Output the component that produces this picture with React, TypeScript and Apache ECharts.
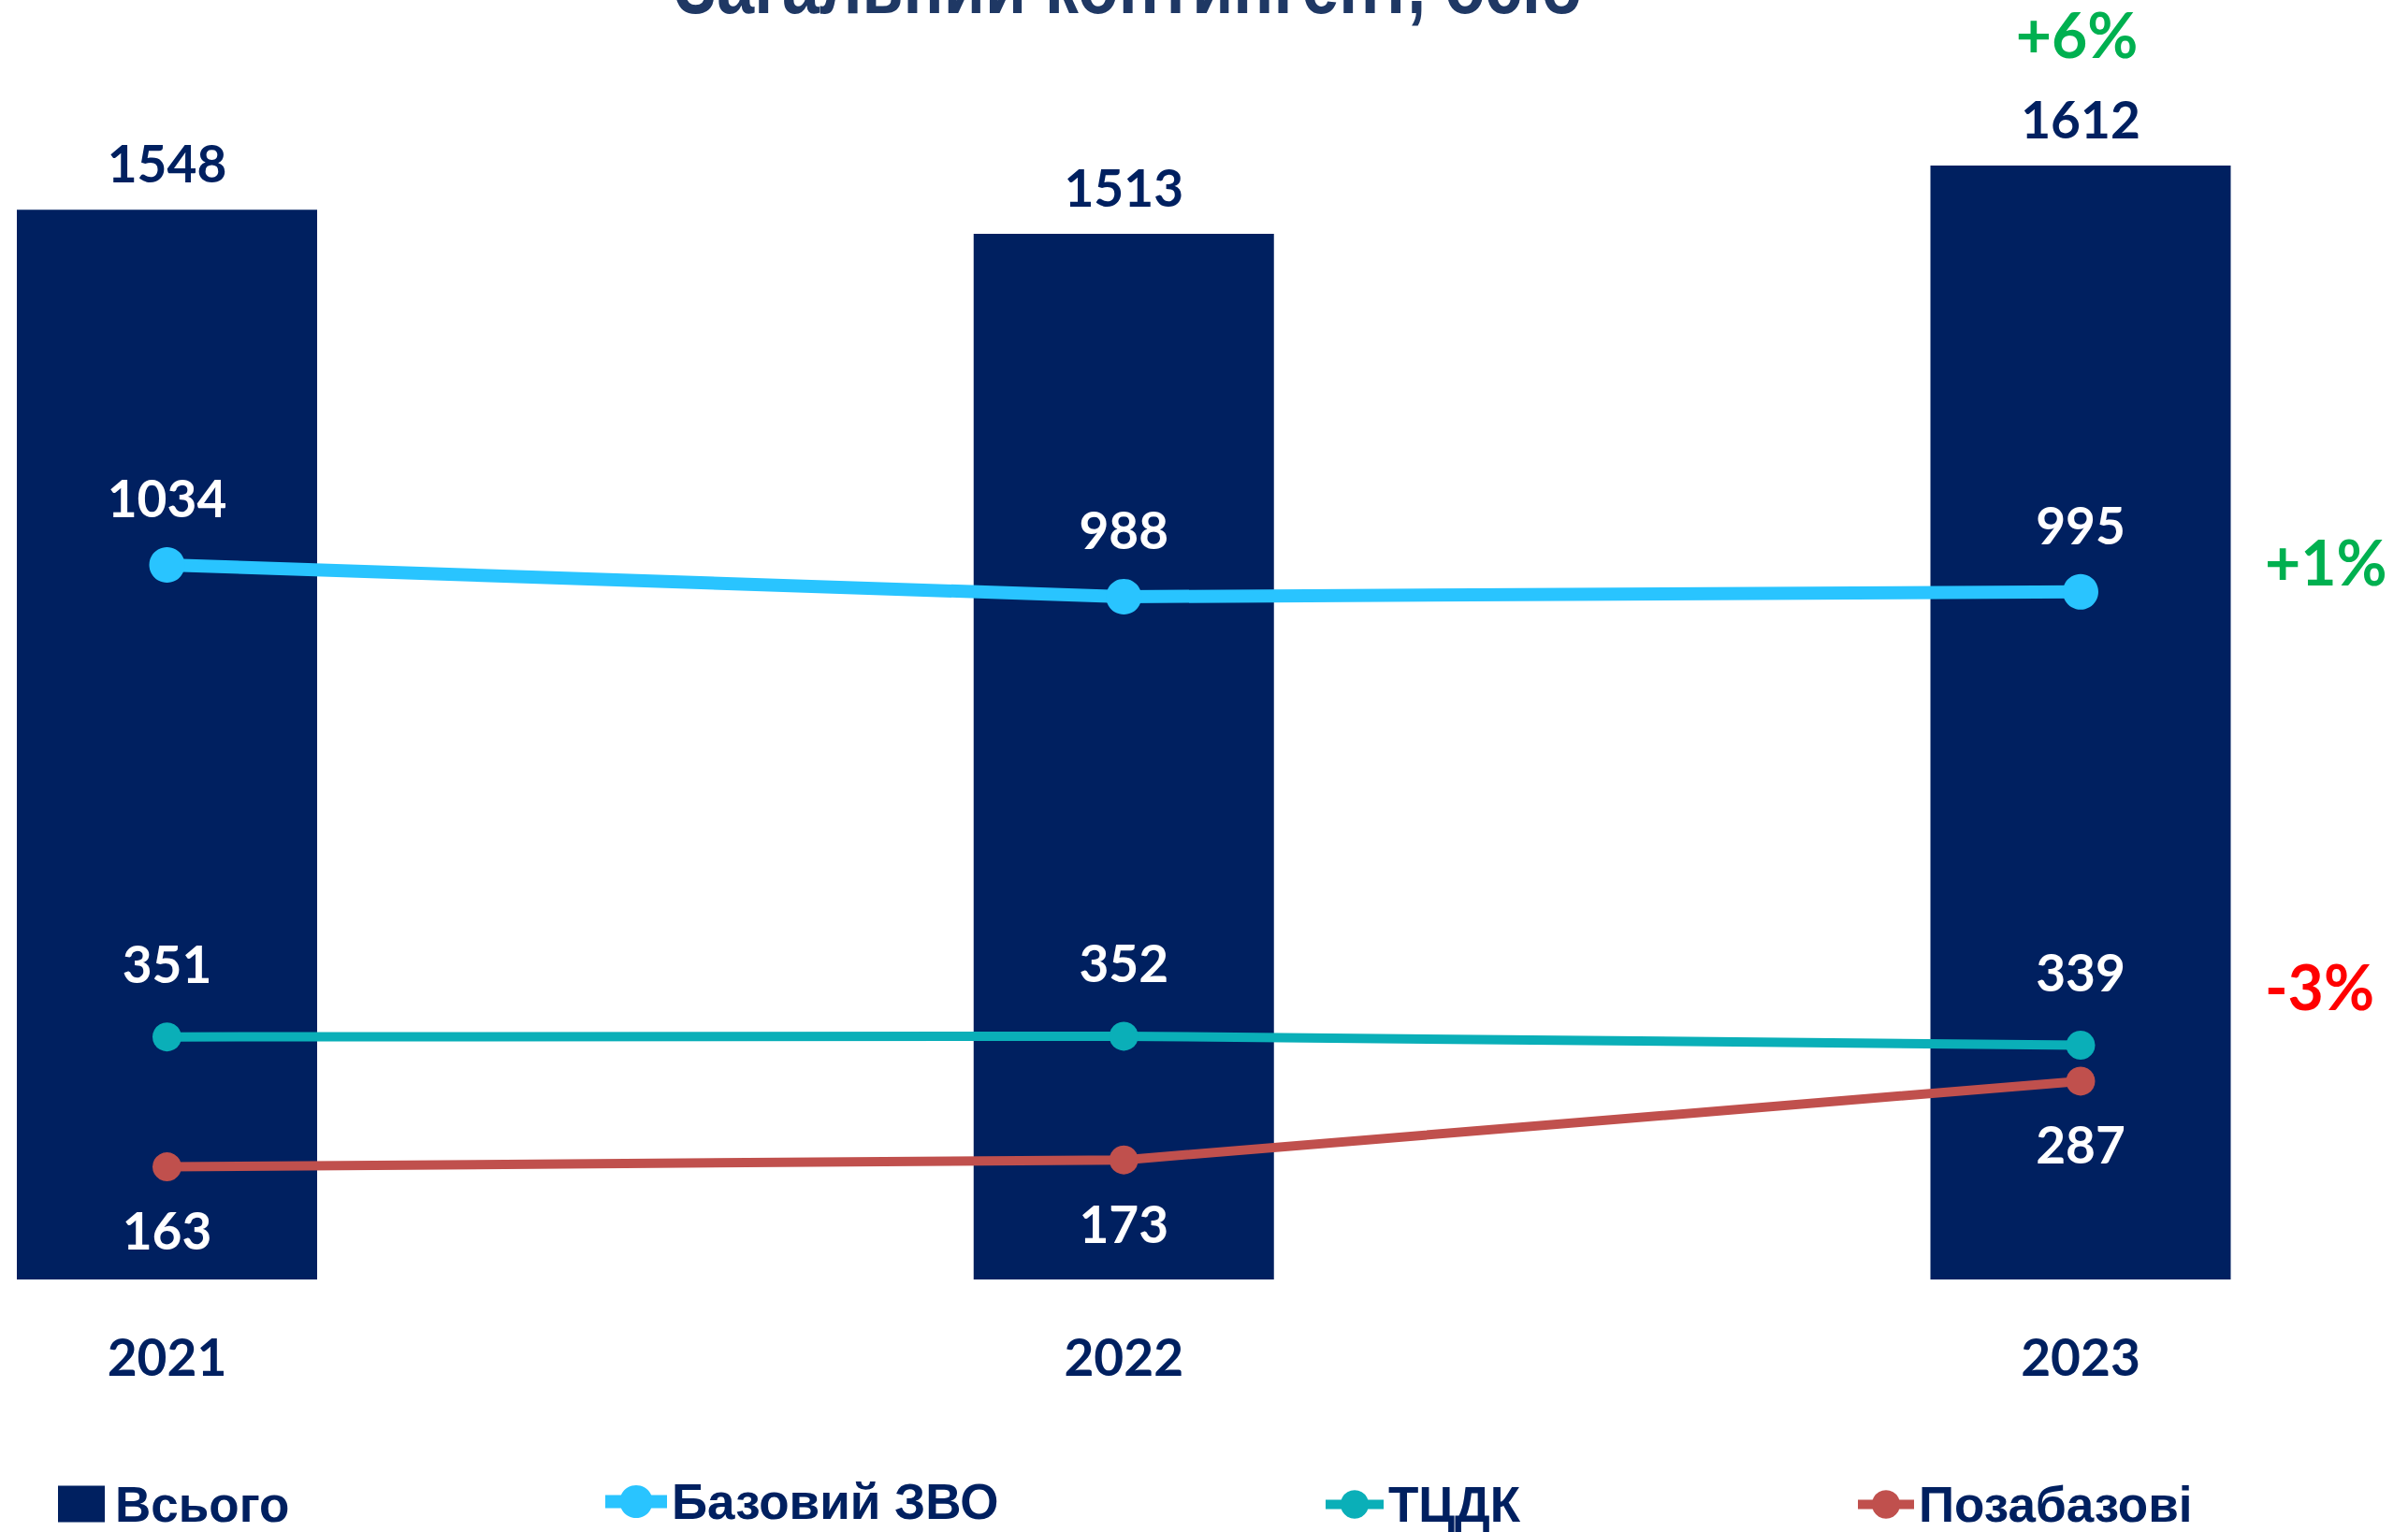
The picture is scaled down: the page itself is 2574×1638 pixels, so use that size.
import React, { useEffect, useRef } from 'react';
import * as echarts from 'echarts';

const years = ['2021', '2022', '2023'];
const total = [1548, 1513, 1612];
const base = [1034, 988, 995];
const tsdk = [351, 352, 339];
const extra = [163, 173, 287];
const seriesNames = ['Всього', 'Базовий ЗВО', 'ТЦДК', 'Позабазові'];
const totalChange = '+6%';
const baseChange = '+1%';
const tsdkChange = '-3%';
const titleText = 'Загальний контингент, осіб';

const NAVY = '#002060';
const TITLE = '#1f3864';
const LIGHT = '#29c4ff';
const TEAL = '#0aafb8';
const RED = '#c0504d';
const GREEN = '#00b050';
const PCT_RED = '#ff0000';
const NUM_FONT = 'Lato, "Open Sans", sans-serif';
const NARROW = '"Liberation Sans Narrow", "Arial Narrow", "Liberation Sans", sans-serif';

export default function App() {
  const ref = useRef<HTMLDivElement>(null);
  useEffect(() => {
    document.body.style.margin = '0';
    if (!ref.current) return;
    const chart = echarts.init(ref.current, undefined, { renderer: 'svg' });
    const numLabel = {
      color: '#ffffff',
      fontFamily: NUM_FONT,
      fontWeight: 'bold' as const,
      fontSize: 55,
      lineHeight: 56,
    };
    const legendText = {
      color: NAVY,
      fontFamily: NARROW,
      fontWeight: 'bold' as const,
      fontSize: 53,
    };
    const LEG_Y = 1601;
    const option: any = {
      animation: false,
      backgroundColor: '#ffffff',
      grid: { left: 178.5, right: 350, top: 38, bottom: 270, containLabel: false },
      xAxis: {
        type: 'category',
        data: years,
        boundaryGap: false,
        axisLine: { show: false },
        axisTick: { show: false },
        splitLine: { show: false },
        axisLabel: {
          color: NAVY,
          fontFamily: NUM_FONT,
          fontWeight: 'bold',
          fontSize: 55,
          lineHeight: 56,
          margin: 54,
        },
      },
      yAxis: { type: 'value', min: 0, max: 1800, show: false, splitLine: { show: false } },
      legend: [
        {
          data: [{ name: seriesNames[0], icon: 'rect' }],
          left: 62, top: LEG_Y - 19.5, padding: 0,
          itemWidth: 50, itemHeight: 39,
          textStyle: { ...legendText, lineHeight: 39, padding: [0, 0, 0, 6] },
        },
        {
          data: [seriesNames[1]],
          left: 640, top: LEG_Y - 22, padding: 0,
          itemWidth: 66, itemHeight: 44,
          lineStyle: { width: 14 },
          textStyle: { ...legendText, lineHeight: 44 },
        },
        {
          data: [seriesNames[2]],
          left: 1412, top: LEG_Y - 19, padding: 0,
          itemWidth: 62, itemHeight: 38,
          lineStyle: { width: 10 },
          textStyle: { ...legendText, lineHeight: 38 },
        },
        {
          data: [seriesNames[3]],
          left: 1981, top: LEG_Y - 19, padding: 0,
          itemWidth: 60, itemHeight: 38,
          lineStyle: { width: 10 },
          textStyle: { ...legendText, lineHeight: 38 },
        },
      ],
      series: [
        {
          name: seriesNames[0],
          type: 'bar',
          data: total,
          barWidth: 321,
          itemStyle: { color: NAVY },
          label: {
            show: true,
            position: 'top',
            distance: 22,
            ...numLabel,
            color: NAVY,
          },
        },
        {
          name: seriesNames[1],
          type: 'line',
          data: base,
          symbol: 'circle',
          symbolSize: 38,
          lineStyle: { color: LIGHT, width: 14 },
          itemStyle: { color: LIGHT },
          label: { show: true, position: 'top', distance: 25, ...numLabel },
          z: 4,
        },
        {
          name: seriesNames[2],
          type: 'line',
          data: tsdk,
          symbol: 'circle',
          symbolSize: 31,
          lineStyle: { color: TEAL, width: 10 },
          itemStyle: { color: TEAL },
          label: { show: true, position: 'top', distance: 35, ...numLabel },
          z: 3,
        },
        {
          name: seriesNames[3],
          type: 'line',
          data: extra,
          symbol: 'circle',
          symbolSize: 31,
          lineStyle: { color: RED, width: 10 },
          itemStyle: { color: RED },
          label: { show: true, position: 'bottom', distance: 24, ...numLabel },
          z: 3,
        },
      ],
    };
    chart.setOption(option);

    const last = years.length - 1;
    const pTotal = chart.convertToPixel({ seriesIndex: 0 }, [last, total[last]]) as number[];
    const pBase = chart.convertToPixel({ seriesIndex: 1 }, [last, base[last]]) as number[];
    const pTsdk = chart.convertToPixel({ seriesIndex: 2 }, [last, tsdk[last]]) as number[];
    const pMid = chart.convertToPixel({ seriesIndex: 0 }, [1, 0]) as number[];
    const pctStyle = {
      fontFamily: NUM_FONT,
      fontWeight: 'bold',
      fontSize: 66,
      align: 'left',
      verticalAlign: 'middle',
    };
    chart.setOption({
      graphic: [
        {
          type: 'text',
          x: pMid[0] + 5,
          y: -17,
          scaleX: 0.815,
          style: {
            text: titleText,
            fill: TITLE,
            fontFamily: '"Liberation Sans", Arial, sans-serif',
            fontWeight: 'bold',
            fontSize: 88,
            align: 'center',
            verticalAlign: 'middle',
          },
        },
        {
          type: 'text',
          x: pTotal[0] - 4,
          y: pTotal[1] - 140,
          style: { ...pctStyle, align: 'center', text: totalChange, fill: GREEN },
        },
        {
          type: 'text',
          x: pBase[0] + 197,
          y: pBase[1] - 32,
          style: { ...pctStyle, text: baseChange, fill: GREEN },
        },
        {
          type: 'text',
          x: pTsdk[0] + 197,
          y: pTsdk[1] - 63,
          style: { ...pctStyle, text: tsdkChange, fill: PCT_RED },
        },
      ],
    });
    return () => chart.dispose();
  }, []);
  return <div ref={ref} style={{ width: 2574, height: 1638 }} />;
}
